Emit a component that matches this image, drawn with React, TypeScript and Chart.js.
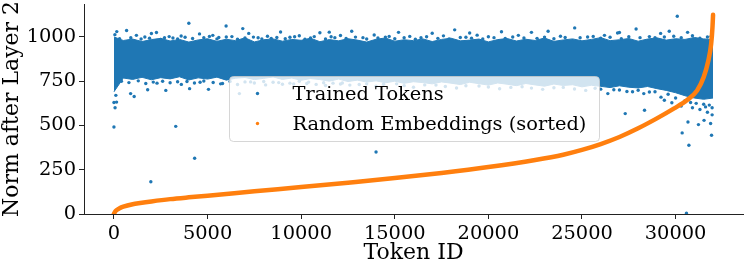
import React, { useEffect, useRef } from "react";
import { Chart, registerables } from "chart.js";

Chart.register(...registerables);

const FONT = "'DejaVu Serif', serif";
const BLUE = "#1f77b4";
const ORANGE = "#ff7f0e";

// Tick labels
const xTickValues = [0, 5000, 10000, 15000, 20000, 25000, 30000];
const yTickValues = [0, 250, 500, 750, 1000];

// Trained tokens: dense core of the cloud (edges read per 500 token IDs)
const bandIds = [
  0, 500, 1000, 1500, 2000, 2500, 3000, 3500, 4000, 4500,
  5000, 5500, 6000, 6500, 7000, 7500, 8000, 8500, 9000, 9500,
  10000, 10500, 11000, 11500, 12000, 12500, 13000, 13500, 14000, 14500,
  15000, 15500, 16000, 16500, 17000, 17500, 18000, 18500, 19000, 19500,
  20000, 20500, 21000, 21500, 22000, 22500, 23000, 23500, 24000, 24500,
  25000, 25500, 26000, 26500, 27000, 27500, 28000, 28500, 29000, 29500,
  30000, 30500, 31000, 31500, 32000,
];
const bandUpper = [
  1000, 980, 988, 974, 985, 992, 977, 986, 971, 983,
  990, 975, 987, 979, 995, 972, 984, 989, 976, 986,
  981, 993, 973, 985, 978, 990, 982, 971, 987, 994,
  976, 984, 979, 989, 974, 986, 993, 978, 982, 988,
  972, 985, 991, 977, 987, 980, 994, 975, 983, 989,
  978, 986, 996, 979, 984, 991, 976, 988, 995, 982,
  990, 986, 997, 989, 985,
];
const bandLower = [
  690, 768, 760, 772, 758, 770, 763, 775, 757, 769,
  762, 773, 756, 767, 771, 759, 766, 774, 760, 768,
  755, 765, 759, 750, 762, 748, 756, 745, 752, 741,
  750, 738, 747, 742, 735, 746, 739, 731, 744, 736,
  728, 740, 733, 725, 737, 729, 722, 734, 726, 730,
  718, 727, 721, 714, 724, 716, 712, 720, 708, 698,
  685, 668, 655, 648, 655,
];

// Trained tokens: fringe dots just above the core
const upperFringeIds = [
  50, 300, 675, 900, 1200, 1450, 1650, 1900, 2270, 2500,
  2700, 2950, 3150, 3400, 3590, 3800, 4200, 4570, 4800, 5100,
  5280, 5500, 5600, 6000, 6300, 6600, 7000, 7200, 7450, 7700,
  7900, 8200, 8400, 8700, 8900, 9150, 9400, 9650, 9900, 10200,
  10500, 10700, 11000, 11300, 11600, 11800, 12100, 12400, 12700, 12900,
  13300, 13500, 13900, 14100, 14500, 14700, 15000, 15200, 15500, 15800,
  16100, 16400, 16700, 17000, 17300, 17600, 17900, 18200, 18500, 18800,
  19100, 19400, 19700, 20000, 20300, 20700, 20900, 21300, 21600, 21900,
  22300, 22600, 23000, 23190, 23500, 23850, 24100, 24610, 24900, 25300,
  25600, 26000, 26200, 26500, 26900, 27100, 27500, 27890, 28100, 28600,
  28900, 29200, 29400, 29660, 29900, 30300, 30640, 30900, 31300, 31700,
  31900, 150, 2000, 11500, 19000, 27000,
];
const upperFringeNorms = [
  1013, 990, 1036, 996, 1009, 988, 1000, 993, 1025, 986,
  996, 1002, 994, 988, 1005, 998, 991, 1017, 995, 1003,
  1009, 989, 997, 1000, 1002, 987, 994, 1020, 999, 995,
  988, 1004, 992, 997, 1028, 990, 998, 1001, 1007, 987,
  994, 1002, 1024, 989, 1001, 996, 1008, 991, 1032, 999,
  996, 988, 1011, 994, 999, 1003, 990, 1026, 996, 1003,
  987, 995, 1001, 1021, 992, 1006, 989, 1040, 997, 998,
  993, 1010, 988, 1001, 996, 1029, 991, 1000, 1009, 994,
  1026, 992, 999, 1032, 990, 1004, 997, 1051, 995, 1000,
  1003, 993, 1009, 998, 1022, 990, 1001, 1045, 996, 1002,
  995, 1020, 1000, 1032, 1004, 996, 1026, 1007, 993, 1000,
  1004, 1030, 1019, 1027, 1022, 1025,
];

// Trained tokens: fringe dots just below the core
const lowerFringeIds = [
  60, 100, 140, 400, 800, 890, 1080, 1300, 1700, 1800,
  2100, 2300, 2600, 2770, 3000, 3400, 3600, 3900, 4040, 4300,
  4600, 4800, 5050, 5300, 5700, 5800, 6200, 6600, 6700, 7000,
  7300, 7500, 8000, 8100, 8500, 8800, 9000, 9400, 9600, 9900,
  10300, 10400, 10800, 11200, 11300, 11700, 12100, 12200, 12600, 13100,
  13500, 14000, 14400, 15100, 15500, 16000, 16600, 17200, 17700, 18300,
  18800, 19500, 20000, 20600, 21200, 21800, 22300, 22900, 23500, 24000,
  24600, 25200, 25700, 26000, 26380, 26700, 27000, 27400, 27700, 28000,
  28300, 28600, 28900, 29220, 29400, 29600, 29800, 30000, 30300, 30500,
  30800, 30900, 31100, 31300, 31500, 31600, 31700, 31800, 31950, 31950,
];
const lowerFringeNorms = [
  600, 670, 632, 750, 742, 680, 664, 752, 737, 702,
  745, 739, 750, 698, 741, 747, 732, 748, 708, 740,
  744, 751, 704, 743, 735, 737, 749, 731, 680, 746,
  746, 740, 748, 729, 744, 742, 733, 739, 734, 750,
  737, 745, 732, 741, 726, 739, 734, 740, 728, 731,
  735, 722, 733, 735, 725, 716, 729, 728, 720, 712,
  724, 723, 717, 707, 715, 719, 711, 704, 713, 715,
  706, 698, 710, 705, 680, 702, 700, 692, 690, 699,
  680, 689, 690, 660, 642, 676, 628, 655, 610, 640,
  630, 600, 625, 590, 620, 605, 575, 615, 560, 600,
];

// Trained tokens: far outliers
const farIds = [
  0, 0, 3300, 4310, 1970, 4000, 5990, 6880, 30090, 30350,
  30710, 30580, 31920, 31870, 31220, 30660, 31520, 27310, 28340, 14000,
];
const farNorms = [
  491, 630, 495, 315, 182, 1077, 1062, 1047, 1117, 458,
  388, 4, 445, 511, 505, 520, 529, 567, 586, 350,
];

// Random embeddings, sorted by norm
const orangeIds = [
  0, 100, 300, 500, 1000, 1400, 2000, 3000, 4000, 5000,
  7500, 10000, 12500, 15000, 17500, 20000, 22500, 24000, 25000, 26000,
  27000, 28000, 29000, 29900, 30600, 31150, 31500, 31750, 31900, 31970, 32000,
];
const orangeNorms = [
  2, 18, 32, 41, 55, 62, 71, 84, 94, 103,
  128, 152, 177, 203, 232, 265, 305, 335, 362, 395,
  435, 484, 540, 595, 642, 698, 773, 867, 961, 1055, 1125,
];

const legendLabels = ["Trained Tokens", "Random Embeddings (sorted)"];

export default function App() {
  const ref = useRef<HTMLCanvasElement>(null);

  useEffect(() => {
    if (!ref.current) return;
    const legendPlugin = {
      id: "centerLegend",
      afterDatasetsDraw(chart: any) {
        const { ctx, chartArea } = chart;
        const w = 370;
        const h = 65;
        const cx = (chartArea.left + chartArea.right) / 2;
        const cy = (chartArea.top + chartArea.bottom) / 2;
        const x0 = Math.round(cx - w / 2) + 0.5;
        const y0 = Math.round(cy - h / 2) - 0.5;
        ctx.save();
        ctx.beginPath();
        ctx.roundRect(x0, y0, w, h, 4);
        ctx.fillStyle = "rgba(255,255,255,0.8)";
        ctx.fill();
        ctx.strokeStyle = "rgba(204,204,204,0.8)";
        ctx.lineWidth = 1;
        ctx.stroke();
        const colors = [BLUE, ORANGE];
        ctx.font = `19.4px ${FONT}`;
        ctx.textBaseline = "middle";
        ctx.textAlign = "left";
        legendLabels.forEach((lab, i) => {
          const yy = y0 + 17 + i * 30;
          ctx.beginPath();
          ctx.arc(x0 + 28, yy, 1.7, 0, Math.PI * 2);
          ctx.fillStyle = colors[i];
          ctx.fill();
          ctx.fillStyle = "#000";
          ctx.fillText(lab, x0 + 63, yy + 1);
        });
        ctx.restore();
      },
    };

    const scatterIds = [...upperFringeIds, ...lowerFringeIds, ...farIds];
    const scatterNorms = [...upperFringeNorms, ...lowerFringeNorms, ...farNorms];

    const chart = new Chart(ref.current, {
      type: "line",
      data: {
        datasets: [
          {
            label: "core-lower",
            data: bandIds.map((x, i) => ({ x, y: bandLower[i] })),
            borderColor: BLUE,
            borderWidth: 1,
            pointRadius: 0,
            fill: false,
            order: 3,
          },
          {
            label: legendLabels[0],
            data: bandIds.map((x, i) => ({ x, y: bandUpper[i] })),
            borderColor: BLUE,
            borderWidth: 1,
            backgroundColor: BLUE,
            pointRadius: 0,
            fill: "-1",
            order: 3,
          },
          {
            label: "scatter",
            data: scatterIds.map((x, i) => ({ x, y: scatterNorms[i] })),
            showLine: false,
            pointRadius: 1.7,
            pointBorderWidth: 0,
            pointBackgroundColor: BLUE,
            borderColor: BLUE,
            order: 2,
          },
          {
            label: legendLabels[1],
            data: orangeIds.map((x, i) => ({ x, y: orangeNorms[i] })),
            borderColor: ORANGE,
            borderWidth: 4.5,
            pointRadius: 0,
            cubicInterpolationMode: "monotone",
            borderCapStyle: "round",
            fill: false,
            order: 1,
          },
        ],
      },
      options: {
        responsive: false,
        animation: false,
        devicePixelRatio: 1,
        events: [],
        layout: { padding: { top: 3, right: 2, left: 0, bottom: 0 } },
        plugins: { legend: { display: false }, tooltip: { enabled: false } },
        scales: {
          x: {
            type: "linear",
            min: -1600,
            max: 33600,
            afterBuildTicks: (s: any) => {
              s.ticks = xTickValues.map((v) => ({ value: v }));
            },
            afterFit: (s: any) => {
              s.height = 49;
              s.paddingLeft = 0;
              s.paddingRight = 0;
            },
            ticks: {
              font: { family: FONT, size: 19.4 },
              color: "#000",
              padding: 3,
              maxRotation: 0,
              autoSkip: false,
              callback: (v: any) => String(v),
            },
            grid: { drawOnChartArea: false, drawTicks: true, tickLength: 5, color: "#222" },
            border: { display: true, color: "#222", width: 1 },
            title: {
              display: true,
              text: "Token ID",
              font: { family: FONT, size: 22 },
              color: "#000",
              padding: { top: 0, bottom: -3 },
            },
          },
          y: {
            type: "linear",
            min: 0,
            max: 1186,
            afterBuildTicks: (s: any) => {
              s.ticks = yTickValues.map((v) => ({ value: v }));
            },
            afterFit: (s: any) => {
              s.width = 84;
              s.paddingTop = 0;
              s.paddingBottom = 0;
            },
            ticks: {
              font: { family: FONT, size: 19.4 },
              color: "#000",
              padding: 3,
              autoSkip: false,
              callback: (v: any) => String(v),
            },
            grid: { drawOnChartArea: false, drawTicks: true, tickLength: 5, color: "#222" },
            border: { display: true, color: "#222", width: 1 },
            title: {
              display: true,
              text: "Norm after Layer 2",
              font: { family: FONT, size: 22 },
              color: "#000",
              padding: { top: -1, bottom: 0 },
            },
          },
        },
      },
      plugins: [legendPlugin],
    } as any);
    return () => chart.destroy();
  }, []);

  return (
    <div style={{ position: "fixed", left: 0, top: 0, width: 747, height: 263, background: "#fff" }}>
      <canvas ref={ref} width={747} height={263} style={{ width: 747, height: 263, display: "block" }} />
    </div>
  );
}
